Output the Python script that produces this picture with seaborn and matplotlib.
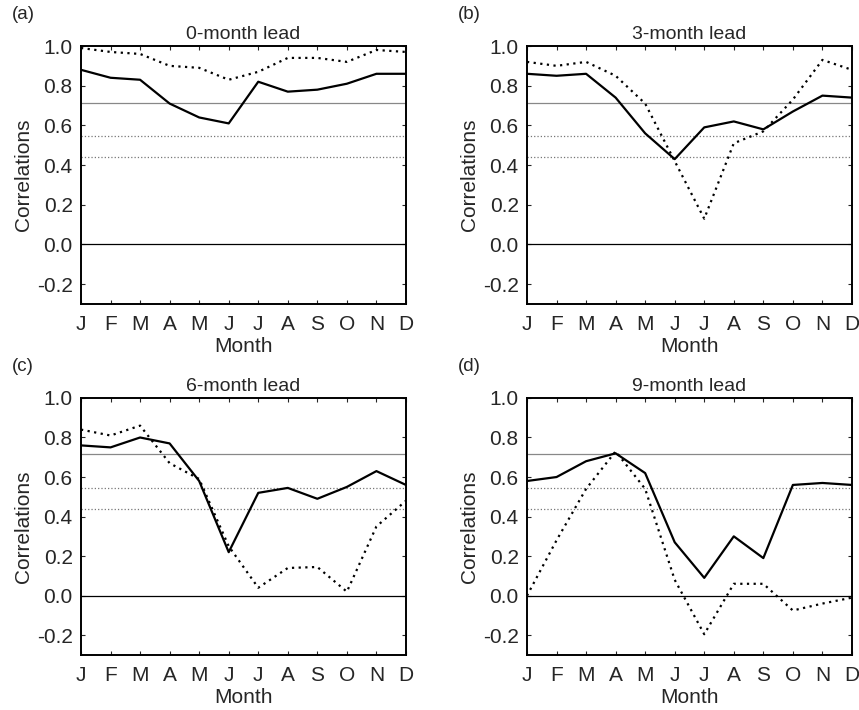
import pandas as pd
import matplotlib.pyplot as plt
import seaborn as sns

# Month labels along the x axis
months = ["J", "F", "M", "A", "M", "J", "J", "A", "S", "O", "N", "D"]

# Panel titles
titles = ["0-month lead", "3-month lead", "6-month lead", "9-month lead"]
letters = ["(a)", "(b)", "(c)", "(d)"]

# Solid curves
solid_0 = [0.88, 0.84, 0.83, 0.71, 0.64, 0.61, 0.82, 0.77, 0.78, 0.81, 0.86, 0.86]
solid_3 = [0.86, 0.85, 0.86, 0.74, 0.56, 0.43, 0.59, 0.62, 0.58, 0.67, 0.75, 0.74]
solid_6 = [0.76, 0.75, 0.80, 0.77, 0.58, 0.22, 0.52, 0.545, 0.49, 0.55, 0.63, 0.56]
solid_9 = [0.58, 0.60, 0.68, 0.72, 0.62, 0.27, 0.09, 0.30, 0.19, 0.56, 0.57, 0.56]

# Dotted curves
dotted_0 = [0.99, 0.97, 0.96, 0.90, 0.89, 0.83, 0.87, 0.94, 0.94, 0.92, 0.98, 0.97]
dotted_3 = [0.92, 0.90, 0.92, 0.85, 0.71, 0.42, 0.13, 0.51, 0.57, 0.73, 0.93, 0.88]
dotted_6 = [0.84, 0.81, 0.86, 0.67, 0.59, 0.25, 0.04, 0.14, 0.145, 0.02, 0.35, 0.48]
dotted_9 = [0.00, 0.28, 0.54, 0.73, 0.54, 0.08, -0.195, 0.06, 0.06, -0.075, -0.04, -0.01]

# Significance levels drawn as horizontal reference lines
levels = [0.715, 0.545, 0.44]
level_styles = [("-", "#888888", 0.9), (":", "#777777", 0.9), (":", "#777777", 0.9)]

solids = [solid_0, solid_3, solid_6, solid_9]
dotteds = [dotted_0, dotted_3, dotted_6, dotted_9]

sns.set_style("ticks")
plt.rcParams["font.family"] = ["Liberation Sans", "DejaVu Sans"]

fig = plt.figure(figsize=(8.59, 7.10), dpi=100)

# Axes boxes [left, bottom, width, height] in figure fractions
boxes = [
    [0.0943, 0.5718, 0.3783, 0.3634],
    [0.6135, 0.5718, 0.3783, 0.3634],
    [0.0943, 0.0775, 0.3783, 0.3620],
    [0.6135, 0.0775, 0.3783, 0.3620],
]

for i in range(4):
    ax = fig.add_axes(boxes[i])
    df = pd.DataFrame({
        "idx": list(range(12)) * 2,
        "Correlation": solids[i] + dotteds[i],
        "kind": ["solid"] * 12 + ["dotted"] * 12,
    })

    # Reference lines
    for lev, (ls, col, lw) in zip(levels, level_styles):
        ax.axhline(lev, linestyle=ls, color=col, linewidth=lw, zorder=1)
    ax.axhline(0.0, color="black", linewidth=0.9, zorder=1)

    sns.lineplot(data=df[df["kind"] == "solid"], x="idx", y="Correlation",
                 color="black", linewidth=1.6, ax=ax, zorder=3)
    sns.lineplot(data=df[df["kind"] == "dotted"], x="idx", y="Correlation",
                 color="black", linewidth=1.6, linestyle=(0, (1, 2)), ax=ax, zorder=3)

    ax.set_xlim(0, 11)
    ax.set_ylim(-0.3, 1.0)
    ax.set_xticks(range(12))
    ax.set_xticklabels(months, fontsize=15)
    ax.set_yticks([-0.2, 0.0, 0.2, 0.4, 0.6, 0.8, 1.0])
    ax.set_yticklabels(["-0.2", "0.0", "0.2", "0.4", "0.6", "0.8", "1.0"], fontsize=15)
    ax.tick_params(direction="in", length=3, width=0.8, top=True, right=True)
    ax.tick_params(axis="x", pad=8)
    ax.tick_params(axis="y", pad=6)
    for side in ax.spines.values():
        side.set_linewidth(1.4)
        side.set_color("black")

    ax.set_xlabel("Month", fontsize=15, labelpad=2)
    ax.set_ylabel("Correlations", fontsize=15, labelpad=3)
    ax.set_title(titles[i], fontsize=14, pad=5)

    # Panel letter in top left corner
    x0 = boxes[i][0] - 0.080
    y0 = boxes[i][1] + boxes[i][3] + 0.044
    fig.text(x0, y0, letters[i], fontsize=13.5, ha="left", va="center")

fig.savefig("out.png", dpi=100)
